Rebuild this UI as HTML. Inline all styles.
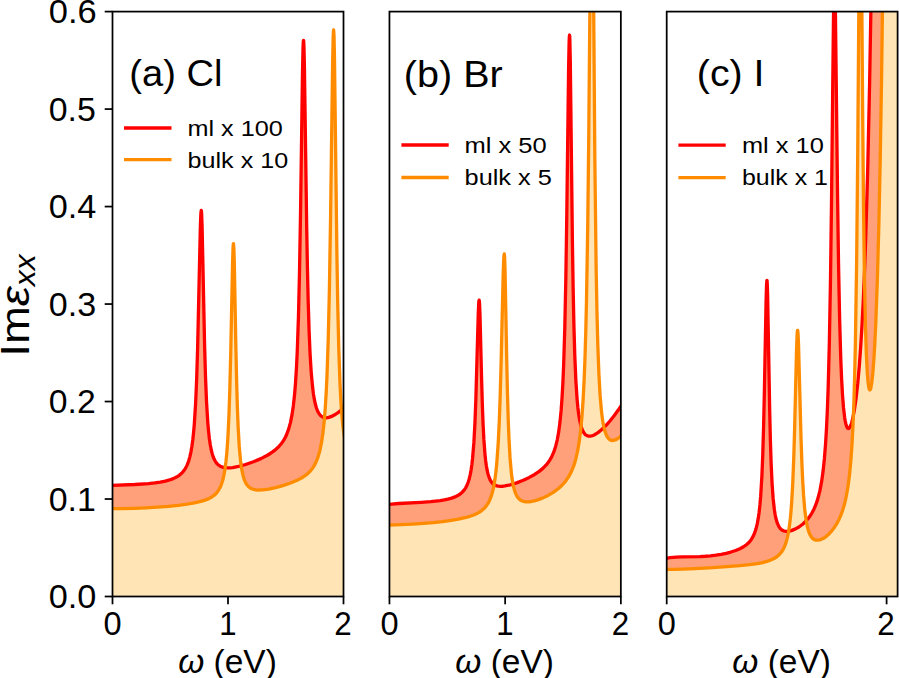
<!DOCTYPE html>
<html><head><meta charset="utf-8"><style>
html,body{margin:0;padding:0;background:#fff;}
body{width:899px;height:678px;overflow:hidden;}
svg{display:block;}
text{font-family:"Liberation Sans",sans-serif;fill:#000;}
</style></head><body>
<svg width="899" height="678" viewBox="0 0 899 678">
<defs>
<clipPath id="clipA"><rect x="112.50" y="11.60" width="231.00" height="584.90"/></clipPath>
<clipPath id="clipB"><rect x="389.45" y="11.60" width="231.40" height="584.90"/></clipPath>
<clipPath id="clipC"><rect x="666.70" y="11.60" width="230.90" height="584.90"/></clipPath>
</defs>
<g clip-path="url(#clipA)">
<path d="M110.45 485.42 L134.76 484.52 L148.47 483.60 L154.81 482.90 L160.34 482.07 L165.30 481.08 L169.56 479.94 L173.25 478.62 L176.49 477.08 L179.24 475.33 L181.66 473.27 L183.73 470.91 L185.58 468.12 L187.19 464.88 L188.57 461.23 L189.84 456.84 L190.91 452.05 L191.91 446.31 L192.77 440.04 L193.62 432.10 L194.33 423.79 L195.62 403.19 L196.64 379.57 L197.62 348.17 L200.33 227.68 L200.79 215.21 L201.02 211.74 L201.25 210.45 L201.48 211.52 L201.62 213.47 L202.06 224.92 L204.62 345.96 L205.51 376.74 L206.55 402.20 L207.82 422.87 L208.51 430.87 L209.31 438.19 L210.19 444.29 L211.16 449.49 L212.20 453.69 L213.35 457.20 L214.27 459.36 L215.19 461.10 L216.33 462.79 L217.50 464.13 L218.76 465.23 L220.18 466.15 L221.75 466.86 L223.49 467.38 L225.45 467.71 L227.61 467.84 L229.94 467.79 L232.59 467.53 L238.70 466.41 L245.61 464.53 L253.45 461.80 L260.94 458.61 L267.39 455.24 L270.27 453.47 L272.92 451.65 L275.23 449.85 L277.30 448.02 L279.26 446.04 L280.99 444.04 L282.60 441.87 L284.03 439.64 L285.37 437.21 L286.64 434.51 L288.71 428.91 L290.44 422.58 L291.94 415.18 L293.32 405.93 L294.47 395.52 L295.51 383.05 L296.43 368.40 L297.24 351.72 L298.45 316.88 L299.54 270.68 L300.58 209.70 L302.47 74.15 L303.00 49.05 L303.23 42.98 L303.46 40.34 L303.58 40.36 L303.69 41.30 L303.92 45.90 L304.41 66.32 L306.69 226.66 L307.38 265.58 L308.18 301.09 L309.11 331.06 L310.09 353.99 L311.20 372.09 L312.59 387.31 L313.42 393.82 L314.29 399.16 L315.33 404.04 L316.37 407.74 L317.58 410.96 L318.96 413.58 L320.49 415.51 L322.15 416.83 L324.09 417.61 L326.31 417.81 L328.81 417.41 L331.58 416.42 L334.69 414.80 L338.03 412.62 L341.60 409.89 L345.40 406.59 L345.40 596.50 L110.45 596.50 Z" fill="#ffa07a"/>
<path d="M110.45 508.65 L121.97 508.60 L133.95 508.33 L145.94 507.84 L157.58 507.16 L168.41 506.30 L178.32 505.29 L186.96 504.15 L194.33 502.89 L199.75 501.69 L204.36 500.36 L208.28 498.86 L211.50 497.17 L214.27 495.20 L216.57 492.95 L218.53 490.32 L220.26 487.14 L221.69 483.56 L222.97 479.28 L224.11 474.11 L225.10 468.17 L225.91 461.90 L226.72 453.83 L227.42 444.75 L228.10 433.70 L229.02 413.52 L229.84 388.80 L230.75 352.20 L232.59 261.90 L233.05 248.01 L233.28 244.51 L233.40 243.74 L233.51 243.65 L233.92 249.41 L234.32 263.68 L235.83 344.74 L236.63 381.47 L237.35 406.83 L238.12 426.63 L239.26 446.65 L240.54 460.77 L241.30 466.56 L242.19 471.74 L243.21 476.14 L244.36 479.77 L245.15 481.69 L246.07 483.47 L247.11 485.04 L248.18 486.29 L249.42 487.39 L250.72 488.25 L252.25 488.97 L253.91 489.49 L255.75 489.84 L257.83 490.02 L262.67 489.89 L268.66 489.06 L275.57 487.59 L283.64 485.38 L291.25 482.78 L297.58 480.07 L300.35 478.65 L302.77 477.24 L305.04 475.71 L307.03 474.16 L308.81 472.57 L310.49 470.81 L311.99 468.97 L313.44 466.88 L314.74 464.67 L315.90 462.36 L317.06 459.64 L318.07 456.83 L319.94 450.19 L321.55 442.27 L322.93 432.90 L324.15 421.72 L325.24 408.36 L326.18 393.00 L327.05 374.49 L328.23 339.51 L329.39 289.97 L330.52 220.80 L332.61 63.24 L333.13 38.55 L333.42 31.47 L333.65 29.83 L334.00 35.28 L334.46 56.65 L336.90 254.11 L337.80 307.43 L338.78 348.72 L339.99 383.18 L340.66 396.87 L341.38 408.59 L342.18 418.73 L343.10 427.87 L345.40 442.83 L345.40 596.50 L110.45 596.50 Z" fill="#ffe4b5"/>
<path d="M110.45 485.42 L134.76 484.52 L148.47 483.60 L154.81 482.90 L160.34 482.07 L165.30 481.08 L169.56 479.94 L173.25 478.62 L176.49 477.08 L179.24 475.33 L181.66 473.27 L183.73 470.91 L185.58 468.12 L187.19 464.88 L188.57 461.23 L189.84 456.84 L190.91 452.05 L191.91 446.31 L192.77 440.04 L193.62 432.10 L194.33 423.79 L195.62 403.19 L196.64 379.57 L197.62 348.17 L200.33 227.68 L200.79 215.21 L201.02 211.74 L201.25 210.45 L201.48 211.52 L201.62 213.47 L202.06 224.92 L204.62 345.96 L205.51 376.74 L206.55 402.20 L207.82 422.87 L208.51 430.87 L209.31 438.19 L210.19 444.29 L211.16 449.49 L212.20 453.69 L213.35 457.20 L214.27 459.36 L215.19 461.10 L216.33 462.79 L217.50 464.13 L218.76 465.23 L220.18 466.15 L221.75 466.86 L223.49 467.38 L225.45 467.71 L227.61 467.84 L229.94 467.79 L232.59 467.53 L238.70 466.41 L245.61 464.53 L253.45 461.80 L260.94 458.61 L267.39 455.24 L270.27 453.47 L272.92 451.65 L275.23 449.85 L277.30 448.02 L279.26 446.04 L280.99 444.04 L282.60 441.87 L284.03 439.64 L285.37 437.21 L286.64 434.51 L288.71 428.91 L290.44 422.58 L291.94 415.18 L293.32 405.93 L294.47 395.52 L295.51 383.05 L296.43 368.40 L297.24 351.72 L298.45 316.88 L299.54 270.68 L300.58 209.70 L302.47 74.15 L303.00 49.05 L303.23 42.98 L303.46 40.34 L303.58 40.36 L303.69 41.30 L303.92 45.90 L304.41 66.32 L306.69 226.66 L307.38 265.58 L308.18 301.09 L309.11 331.06 L310.09 353.99 L311.20 372.09 L312.59 387.31 L313.42 393.82 L314.29 399.16 L315.33 404.04 L316.37 407.74 L317.58 410.96 L318.96 413.58 L320.49 415.51 L322.15 416.83 L324.09 417.61 L326.31 417.81 L328.81 417.41 L331.58 416.42 L334.69 414.80 L338.03 412.62 L341.60 409.89 L345.40 406.59" fill="none" stroke="#ff0000" stroke-width="3.3" stroke-linejoin="round" stroke-linecap="butt"/>
<path d="M110.45 508.65 L121.97 508.60 L133.95 508.33 L145.94 507.84 L157.58 507.16 L168.41 506.30 L178.32 505.29 L186.96 504.15 L194.33 502.89 L199.75 501.69 L204.36 500.36 L208.28 498.86 L211.50 497.17 L214.27 495.20 L216.57 492.95 L218.53 490.32 L220.26 487.14 L221.69 483.56 L222.97 479.28 L224.11 474.11 L225.10 468.17 L225.91 461.90 L226.72 453.83 L227.42 444.75 L228.10 433.70 L229.02 413.52 L229.84 388.80 L230.75 352.20 L232.59 261.90 L233.05 248.01 L233.28 244.51 L233.40 243.74 L233.51 243.65 L233.92 249.41 L234.32 263.68 L235.83 344.74 L236.63 381.47 L237.35 406.83 L238.12 426.63 L239.26 446.65 L240.54 460.77 L241.30 466.56 L242.19 471.74 L243.21 476.14 L244.36 479.77 L245.15 481.69 L246.07 483.47 L247.11 485.04 L248.18 486.29 L249.42 487.39 L250.72 488.25 L252.25 488.97 L253.91 489.49 L255.75 489.84 L257.83 490.02 L262.67 489.89 L268.66 489.06 L275.57 487.59 L283.64 485.38 L291.25 482.78 L297.58 480.07 L300.35 478.65 L302.77 477.24 L305.04 475.71 L307.03 474.16 L308.81 472.57 L310.49 470.81 L311.99 468.97 L313.44 466.88 L314.74 464.67 L315.90 462.36 L317.06 459.64 L318.07 456.83 L319.94 450.19 L321.55 442.27 L322.93 432.90 L324.15 421.72 L325.24 408.36 L326.18 393.00 L327.05 374.49 L328.23 339.51 L329.39 289.97 L330.52 220.80 L332.61 63.24 L333.13 38.55 L333.42 31.47 L333.65 29.83 L334.00 35.28 L334.46 56.65 L336.90 254.11 L337.80 307.43 L338.78 348.72 L339.99 383.18 L340.66 396.87 L341.38 408.59 L342.18 418.73 L343.10 427.87 L345.40 442.83" fill="none" stroke="#ff8c00" stroke-width="3.3" stroke-linejoin="round" stroke-linecap="butt"/>
</g>
<rect x="112.50" y="11.60" width="231.00" height="584.90" fill="none" stroke="#000" stroke-width="1.75" stroke-linejoin="miter"/>
<line x1="112.50" y1="596.50" x2="112.50" y2="604.30" stroke="#000" stroke-width="1.75"/>
<line x1="228.00" y1="596.50" x2="228.00" y2="604.30" stroke="#000" stroke-width="1.75"/>
<line x1="343.50" y1="596.50" x2="343.50" y2="604.30" stroke="#000" stroke-width="1.75"/>
<g clip-path="url(#clipB)">
<path d="M387.45 504.51 L398.62 503.50 L421.21 502.37 L430.77 501.69 L440.22 500.60 L444.26 499.91 L447.94 499.12 L451.63 498.10 L454.92 496.91 L457.74 495.55 L460.16 494.01 L462.27 492.22 L464.08 490.20 L465.69 487.81 L467.00 485.25 L468.18 482.26 L469.26 478.72 L470.28 474.37 L471.10 469.86 L471.91 464.25 L472.60 458.18 L473.87 442.65 L474.87 424.37 L475.79 401.01 L478.29 312.81 L478.71 303.58 L478.94 300.90 L479.17 300.16 L479.40 301.59 L479.60 304.62 L479.99 314.89 L481.59 378.93 L482.40 406.34 L483.09 424.31 L483.90 439.91 L484.98 454.35 L485.62 460.44 L486.31 465.58 L487.08 469.98 L487.93 473.71 L488.92 476.97 L490.00 479.59 L490.89 481.19 L491.85 482.54 L492.99 483.74 L494.15 484.63 L495.48 485.34 L496.92 485.85 L498.53 486.17 L500.37 486.30 L502.45 486.24 L504.87 485.97 L510.28 484.81 L516.62 482.85 L523.30 480.23 L529.30 477.42 L534.60 474.46 L539.21 471.36 L543.12 468.13 L546.47 464.67 L549.23 461.01 L551.65 456.85 L553.73 452.17 L555.68 446.23 L557.30 439.57 L558.69 431.85 L559.98 422.05 L561.10 410.63 L562.02 398.09 L562.84 383.55 L563.64 365.29 L564.79 327.84 L565.83 278.51 L566.75 217.61 L568.59 68.86 L569.08 43.49 L569.28 37.71 L569.51 35.02 L569.73 36.72 L569.86 39.91 L570.32 62.80 L572.39 240.01 L573.11 286.45 L573.89 324.50 L574.80 355.75 L575.85 380.39 L577.14 399.85 L577.92 408.01 L578.73 414.56 L579.74 420.61 L580.81 425.31 L582.07 429.26 L583.50 432.24 L584.28 433.40 L585.18 434.41 L586.10 435.17 L587.01 435.68 L588.05 436.03 L589.10 436.18 L590.26 436.15 L591.52 435.92 L592.99 435.45 L594.55 434.74 L597.98 432.61 L601.78 429.54 L605.81 425.64 L609.96 421.02 L614.11 415.84 L618.26 410.09 L622.40 403.77 L622.40 596.50 L387.45 596.50 Z" fill="#ffa07a"/>
<path d="M387.45 525.14 L401.04 524.66 L412.68 524.10 L423.40 523.41 L433.31 522.57 L442.64 521.56 L451.05 520.41 L458.43 519.14 L464.88 517.72 L469.95 516.30 L474.33 514.71 L478.02 512.97 L481.13 511.02 L483.78 508.82 L486.13 506.20 L488.16 503.16 L489.89 499.69 L491.39 495.70 L492.70 491.10 L493.89 485.61 L494.94 479.37 L495.88 472.12 L496.73 463.78 L498.18 443.66 L499.22 422.71 L500.14 397.49 L501.18 360.04 L503.15 275.60 L503.74 258.98 L504.04 254.83 L504.29 253.86 L504.64 257.84 L505.10 272.83 L506.71 358.95 L507.47 393.55 L508.21 419.11 L508.90 437.16 L510.01 457.45 L511.32 472.58 L512.01 478.12 L512.84 483.30 L513.74 487.53 L514.78 491.20 L515.58 493.40 L516.43 495.23 L517.43 496.93 L518.46 498.29 L519.62 499.42 L520.88 500.33 L522.25 501.01 L523.74 501.49 L525.49 501.79 L527.34 501.88 L529.41 501.77 L531.72 501.45 L534.25 500.90 L536.90 500.16 L542.43 498.13 L548.08 495.45 L553.27 492.38 L557.87 489.01 L562.02 485.24 L565.48 481.31 L568.54 476.90 L571.13 472.12 L573.43 466.61 L574.58 463.21 L575.74 459.25 L577.69 450.67 L579.37 440.64 L580.81 428.92 L582.04 415.33 L583.11 399.67 L584.15 379.47 L584.98 357.94 L585.76 332.16 L586.46 302.69 L587.72 226.98 L588.76 135.71 L590.20 -27.39 L593.37 -27.39 L593.41 -25.99 L594.86 161.17 L596.13 267.00 L596.94 310.95 L597.82 345.21 L598.89 373.78 L600.09 395.18 L601.43 410.78 L602.12 416.62 L602.93 422.06 L603.84 426.84 L604.77 430.61 L605.84 433.85 L607.08 436.52 L608.39 438.42 L609.86 439.72 L611.46 440.39 L612.38 440.51 L613.30 440.46 L615.26 439.92 L617.45 438.75 L619.87 436.95 L622.40 434.60 L622.40 596.50 L387.45 596.50 Z" fill="#ffe4b5"/>
<path d="M387.45 504.51 L398.62 503.50 L421.21 502.37 L430.77 501.69 L440.22 500.60 L444.26 499.91 L447.94 499.12 L451.63 498.10 L454.92 496.91 L457.74 495.55 L460.16 494.01 L462.27 492.22 L464.08 490.20 L465.69 487.81 L467.00 485.25 L468.18 482.26 L469.26 478.72 L470.28 474.37 L471.10 469.86 L471.91 464.25 L472.60 458.18 L473.87 442.65 L474.87 424.37 L475.79 401.01 L478.29 312.81 L478.71 303.58 L478.94 300.90 L479.17 300.16 L479.40 301.59 L479.60 304.62 L479.99 314.89 L481.59 378.93 L482.40 406.34 L483.09 424.31 L483.90 439.91 L484.98 454.35 L485.62 460.44 L486.31 465.58 L487.08 469.98 L487.93 473.71 L488.92 476.97 L490.00 479.59 L490.89 481.19 L491.85 482.54 L492.99 483.74 L494.15 484.63 L495.48 485.34 L496.92 485.85 L498.53 486.17 L500.37 486.30 L502.45 486.24 L504.87 485.97 L510.28 484.81 L516.62 482.85 L523.30 480.23 L529.30 477.42 L534.60 474.46 L539.21 471.36 L543.12 468.13 L546.47 464.67 L549.23 461.01 L551.65 456.85 L553.73 452.17 L555.68 446.23 L557.30 439.57 L558.69 431.85 L559.98 422.05 L561.10 410.63 L562.02 398.09 L562.84 383.55 L563.64 365.29 L564.79 327.84 L565.83 278.51 L566.75 217.61 L568.59 68.86 L569.08 43.49 L569.28 37.71 L569.51 35.02 L569.73 36.72 L569.86 39.91 L570.32 62.80 L572.39 240.01 L573.11 286.45 L573.89 324.50 L574.80 355.75 L575.85 380.39 L577.14 399.85 L577.92 408.01 L578.73 414.56 L579.74 420.61 L580.81 425.31 L582.07 429.26 L583.50 432.24 L584.28 433.40 L585.18 434.41 L586.10 435.17 L587.01 435.68 L588.05 436.03 L589.10 436.18 L590.26 436.15 L591.52 435.92 L592.99 435.45 L594.55 434.74 L597.98 432.61 L601.78 429.54 L605.81 425.64 L609.96 421.02 L614.11 415.84 L618.26 410.09 L622.40 403.77" fill="none" stroke="#ff0000" stroke-width="3.3" stroke-linejoin="round" stroke-linecap="butt"/>
<path d="M387.45 525.14 L401.04 524.66 L412.68 524.10 L423.40 523.41 L433.31 522.57 L442.64 521.56 L451.05 520.41 L458.43 519.14 L464.88 517.72 L469.95 516.30 L474.33 514.71 L478.02 512.97 L481.13 511.02 L483.78 508.82 L486.13 506.20 L488.16 503.16 L489.89 499.69 L491.39 495.70 L492.70 491.10 L493.89 485.61 L494.94 479.37 L495.88 472.12 L496.73 463.78 L498.18 443.66 L499.22 422.71 L500.14 397.49 L501.18 360.04 L503.15 275.60 L503.74 258.98 L504.04 254.83 L504.29 253.86 L504.64 257.84 L505.10 272.83 L506.71 358.95 L507.47 393.55 L508.21 419.11 L508.90 437.16 L510.01 457.45 L511.32 472.58 L512.01 478.12 L512.84 483.30 L513.74 487.53 L514.78 491.20 L515.58 493.40 L516.43 495.23 L517.43 496.93 L518.46 498.29 L519.62 499.42 L520.88 500.33 L522.25 501.01 L523.74 501.49 L525.49 501.79 L527.34 501.88 L529.41 501.77 L531.72 501.45 L534.25 500.90 L536.90 500.16 L542.43 498.13 L548.08 495.45 L553.27 492.38 L557.87 489.01 L562.02 485.24 L565.48 481.31 L568.54 476.90 L571.13 472.12 L573.43 466.61 L574.58 463.21 L575.74 459.25 L577.69 450.67 L579.37 440.64 L580.81 428.92 L582.04 415.33 L583.11 399.67 L584.15 379.47 L584.98 357.94 L585.76 332.16 L586.46 302.69 L587.72 226.98 L588.76 135.71 L590.20 -27.39 L593.37 -27.39 L593.41 -25.99 L594.86 161.17 L596.13 267.00 L596.94 310.95 L597.82 345.21 L598.89 373.78 L600.09 395.18 L601.43 410.78 L602.12 416.62 L602.93 422.06 L603.84 426.84 L604.77 430.61 L605.84 433.85 L607.08 436.52 L608.39 438.42 L609.86 439.72 L611.46 440.39 L612.38 440.51 L613.30 440.46 L615.26 439.92 L617.45 438.75 L619.87 436.95 L622.40 434.60" fill="none" stroke="#ff8c00" stroke-width="3.3" stroke-linejoin="round" stroke-linecap="butt"/>
</g>
<rect x="389.45" y="11.60" width="231.40" height="584.90" fill="none" stroke="#000" stroke-width="1.75" stroke-linejoin="miter"/>
<line x1="389.45" y1="596.50" x2="389.45" y2="604.30" stroke="#000" stroke-width="1.75"/>
<line x1="505.15" y1="596.50" x2="505.15" y2="604.30" stroke="#000" stroke-width="1.75"/>
<line x1="620.85" y1="596.50" x2="620.85" y2="604.30" stroke="#000" stroke-width="1.75"/>
<g clip-path="url(#clipC)">
<path d="M664.81 558.63 L670.11 557.73 L676.33 557.16 L682.33 556.91 L699.73 556.53 L705.26 556.24 L710.44 555.81 L715.97 555.15 L721.16 554.31 L726.11 553.28 L730.84 552.05 L735.68 550.47 L739.94 548.69 L743.51 546.76 L746.63 544.56 L749.16 542.18 L751.35 539.41 L753.25 536.16 L754.83 532.46 L756.07 528.59 L757.23 523.88 L758.24 518.42 L759.09 512.46 L759.95 504.73 L760.68 496.16 L761.90 475.89 L762.76 454.83 L763.56 427.76 L764.37 391.87 L766.04 302.53 L766.53 285.58 L766.91 280.41 L767.02 280.47 L767.25 283.31 L767.62 294.93 L769.70 411.10 L770.43 441.47 L771.16 463.82 L772.09 483.78 L773.11 498.22 L774.40 509.95 L775.09 514.31 L775.89 518.25 L777.16 522.70 L778.66 526.14 L779.47 527.45 L780.39 528.61 L781.39 529.55 L782.46 530.27 L783.61 530.80 L784.93 531.15 L786.38 531.31 L787.88 531.27 L789.49 531.03 L791.26 530.60 L795.02 529.15 L798.94 526.96 L802.63 524.23 L806.03 521.01 L809.07 517.38 L811.73 513.35 L814.04 508.96 L816.11 503.99 L817.95 498.38 L819.91 490.62 L821.64 481.41 L823.09 471.08 L824.39 458.72 L825.55 444.09 L826.48 428.65 L827.40 408.86 L828.21 386.42 L829.36 342.43 L830.46 281.48 L831.48 203.91 L833.40 23.53 L833.93 -10.00 L834.20 -18.97 L834.43 -21.81 L834.66 -20.22 L834.94 -12.66 L835.47 15.70 L837.54 194.29 L838.56 265.38 L839.62 318.90 L840.77 358.63 L841.59 378.61 L842.50 394.78 L843.54 407.91 L844.69 417.67 L845.26 421.11 L845.96 424.21 L846.65 426.40 L847.45 427.90 L847.81 428.27 L848.24 428.48 L848.68 428.46 L849.07 428.26 L849.87 427.29 L850.70 425.60 L851.60 422.99 L852.52 419.52 L854.32 410.44 L856.05 398.49 L857.71 383.73 L859.23 366.82 L860.71 346.68 L862.09 323.77 L863.36 298.63 L864.51 271.66 L865.66 240.04 L867.73 168.60 L869.58 84.89 L871.54 -27.39 L899.54 -27.39 L899.54 596.50 L664.81 596.50 Z" fill="#ffa07a"/>
<path d="M664.81 569.35 L673.57 569.41 L683.36 569.19 L694.77 568.70 L709.17 567.87 L726.92 566.67 L739.83 565.63 L749.51 564.63 L757.23 563.53 L762.41 562.53 L766.91 561.37 L770.75 560.03 L774.04 558.49 L776.82 556.74 L779.24 554.68 L781.34 552.25 L783.15 549.43 L784.77 546.05 L786.15 542.17 L787.36 537.67 L788.45 532.27 L789.38 526.36 L790.30 518.69 L791.08 510.29 L791.79 500.50 L792.83 481.40 L793.76 457.87 L794.68 426.57 L796.52 350.85 L797.09 335.18 L797.33 331.71 L797.56 330.30 L797.67 330.35 L797.79 330.87 L798.02 333.30 L798.52 344.39 L801.01 437.83 L801.82 461.24 L802.63 479.60 L803.55 495.18 L804.70 508.96 L805.97 519.21 L806.68 523.44 L807.47 527.14 L808.51 530.91 L809.69 534.05 L811.04 536.55 L812.55 538.38 L814.27 539.60 L815.19 539.98 L816.23 540.22 L818.42 540.21 L820.72 539.61 L823.49 538.27 L826.37 536.27 L829.25 533.69 L832.01 530.63 L834.55 527.24 L836.97 523.36 L839.12 519.21 L841.03 514.78 L842.38 511.10 L843.66 507.05 L844.86 502.63 L845.93 497.97 L847.80 487.77 L849.40 475.78 L850.80 461.39 L851.95 445.17 L852.99 425.35 L853.91 401.63 L854.71 373.83 L855.40 342.65 L856.67 259.20 L857.71 155.11 L859.09 -26.90 L859.20 -27.39 L861.59 -27.39 L862.67 114.23 L863.51 204.50 L864.39 272.87 L865.43 324.97 L866.35 354.11 L867.33 373.36 L867.93 380.86 L868.53 385.86 L869.12 388.79 L869.48 389.67 L869.84 389.97 L870.08 389.86 L870.32 389.51 L870.80 388.14 L871.77 382.73 L872.80 373.23 L873.79 360.67 L874.76 344.47 L875.69 325.49 L877.37 279.90 L878.91 223.00 L880.29 155.98 L881.56 77.67 L882.94 -27.39 L899.54 -27.39 L899.54 596.50 L664.81 596.50 Z" fill="#ffe4b5"/>
<path d="M664.81 558.63 L670.11 557.73 L676.33 557.16 L682.33 556.91 L699.73 556.53 L705.26 556.24 L710.44 555.81 L715.97 555.15 L721.16 554.31 L726.11 553.28 L730.84 552.05 L735.68 550.47 L739.94 548.69 L743.51 546.76 L746.63 544.56 L749.16 542.18 L751.35 539.41 L753.25 536.16 L754.83 532.46 L756.07 528.59 L757.23 523.88 L758.24 518.42 L759.09 512.46 L759.95 504.73 L760.68 496.16 L761.90 475.89 L762.76 454.83 L763.56 427.76 L764.37 391.87 L766.04 302.53 L766.53 285.58 L766.91 280.41 L767.02 280.47 L767.25 283.31 L767.62 294.93 L769.70 411.10 L770.43 441.47 L771.16 463.82 L772.09 483.78 L773.11 498.22 L774.40 509.95 L775.09 514.31 L775.89 518.25 L777.16 522.70 L778.66 526.14 L779.47 527.45 L780.39 528.61 L781.39 529.55 L782.46 530.27 L783.61 530.80 L784.93 531.15 L786.38 531.31 L787.88 531.27 L789.49 531.03 L791.26 530.60 L795.02 529.15 L798.94 526.96 L802.63 524.23 L806.03 521.01 L809.07 517.38 L811.73 513.35 L814.04 508.96 L816.11 503.99 L817.95 498.38 L819.91 490.62 L821.64 481.41 L823.09 471.08 L824.39 458.72 L825.55 444.09 L826.48 428.65 L827.40 408.86 L828.21 386.42 L829.36 342.43 L830.46 281.48 L831.48 203.91 L833.40 23.53 L833.93 -10.00 L834.20 -18.97 L834.43 -21.81 L834.66 -20.22 L834.94 -12.66 L835.47 15.70 L837.54 194.29 L838.56 265.38 L839.62 318.90 L840.77 358.63 L841.59 378.61 L842.50 394.78 L843.54 407.91 L844.69 417.67 L845.26 421.11 L845.96 424.21 L846.65 426.40 L847.45 427.90 L847.81 428.27 L848.24 428.48 L848.68 428.46 L849.07 428.26 L849.87 427.29 L850.70 425.60 L851.60 422.99 L852.52 419.52 L854.32 410.44 L856.05 398.49 L857.71 383.73 L859.23 366.82 L860.71 346.68 L862.09 323.77 L863.36 298.63 L864.51 271.66 L865.66 240.04 L867.73 168.60 L869.58 84.89 L871.54 -27.39 L899.54 -27.39" fill="none" stroke="#ff0000" stroke-width="3.3" stroke-linejoin="round" stroke-linecap="butt"/>
<path d="M664.81 569.35 L673.57 569.41 L683.36 569.19 L694.77 568.70 L709.17 567.87 L726.92 566.67 L739.83 565.63 L749.51 564.63 L757.23 563.53 L762.41 562.53 L766.91 561.37 L770.75 560.03 L774.04 558.49 L776.82 556.74 L779.24 554.68 L781.34 552.25 L783.15 549.43 L784.77 546.05 L786.15 542.17 L787.36 537.67 L788.45 532.27 L789.38 526.36 L790.30 518.69 L791.08 510.29 L791.79 500.50 L792.83 481.40 L793.76 457.87 L794.68 426.57 L796.52 350.85 L797.09 335.18 L797.33 331.71 L797.56 330.30 L797.67 330.35 L797.79 330.87 L798.02 333.30 L798.52 344.39 L801.01 437.83 L801.82 461.24 L802.63 479.60 L803.55 495.18 L804.70 508.96 L805.97 519.21 L806.68 523.44 L807.47 527.14 L808.51 530.91 L809.69 534.05 L811.04 536.55 L812.55 538.38 L814.27 539.60 L815.19 539.98 L816.23 540.22 L818.42 540.21 L820.72 539.61 L823.49 538.27 L826.37 536.27 L829.25 533.69 L832.01 530.63 L834.55 527.24 L836.97 523.36 L839.12 519.21 L841.03 514.78 L842.38 511.10 L843.66 507.05 L844.86 502.63 L845.93 497.97 L847.80 487.77 L849.40 475.78 L850.80 461.39 L851.95 445.17 L852.99 425.35 L853.91 401.63 L854.71 373.83 L855.40 342.65 L856.67 259.20 L857.71 155.11 L859.09 -26.90 L859.20 -27.39 L861.59 -27.39 L862.67 114.23 L863.51 204.50 L864.39 272.87 L865.43 324.97 L866.35 354.11 L867.33 373.36 L867.93 380.86 L868.53 385.86 L869.12 388.79 L869.48 389.67 L869.84 389.97 L870.08 389.86 L870.32 389.51 L870.80 388.14 L871.77 382.73 L872.80 373.23 L873.79 360.67 L874.76 344.47 L875.69 325.49 L877.37 279.90 L878.91 223.00 L880.29 155.98 L881.56 77.67 L882.94 -27.39 L899.54 -27.39" fill="none" stroke="#ff8c00" stroke-width="3.3" stroke-linejoin="round" stroke-linecap="butt"/>
</g>
<rect x="666.70" y="11.60" width="230.90" height="584.90" fill="none" stroke="#000" stroke-width="1.75" stroke-linejoin="miter"/>
<line x1="666.70" y1="596.50" x2="666.70" y2="604.30" stroke="#000" stroke-width="1.75"/>
<line x1="886.60" y1="596.50" x2="886.60" y2="604.30" stroke="#000" stroke-width="1.75"/>
<line x1="104.70" y1="596.50" x2="112.50" y2="596.50" stroke="#000" stroke-width="1.75"/>
<line x1="104.70" y1="499.02" x2="112.50" y2="499.02" stroke="#000" stroke-width="1.75"/>
<line x1="104.70" y1="401.53" x2="112.50" y2="401.53" stroke="#000" stroke-width="1.75"/>
<line x1="104.70" y1="304.05" x2="112.50" y2="304.05" stroke="#000" stroke-width="1.75"/>
<line x1="104.70" y1="206.57" x2="112.50" y2="206.57" stroke="#000" stroke-width="1.75"/>
<line x1="104.70" y1="109.08" x2="112.50" y2="109.08" stroke="#000" stroke-width="1.75"/>
<line x1="104.70" y1="11.60" x2="112.50" y2="11.60" stroke="#000" stroke-width="1.75"/>
<line x1="124.0" y1="128.0" x2="171.5" y2="128.0" stroke="#ff0000" stroke-width="3.3"/>
<line x1="124.0" y1="159.7" x2="171.5" y2="159.7" stroke="#ff8c00" stroke-width="3.3"/>
<line x1="401.4" y1="145.0" x2="448.7" y2="145.0" stroke="#ff0000" stroke-width="3.3"/>
<line x1="401.4" y1="177.5" x2="448.7" y2="177.5" stroke="#ff8c00" stroke-width="3.3"/>
<line x1="678.4" y1="145.2" x2="725.7" y2="145.2" stroke="#ff0000" stroke-width="3.3"/>
<line x1="678.4" y1="177.7" x2="725.7" y2="177.7" stroke="#ff8c00" stroke-width="3.3"/>
<text transform="matrix(1.03867 0 0 0.99645 48.727 608.173)" font-size="33">0.0</text>
<text transform="matrix(1.02758 0 0 0.99645 48.742 510.693)" font-size="33">0.1</text>
<text transform="matrix(1.02295 0 0 0.99645 48.748 413.213)" font-size="33">0.2</text>
<text transform="matrix(1.03287 0 0 0.99645 48.735 315.733)" font-size="33">0.3</text>
<text transform="matrix(1.03786 0 0 0.99645 48.728 218.253)" font-size="33">0.4</text>
<text transform="matrix(1.02613 0 0 0.99645 48.743 120.773)" font-size="33">0.5</text>
<text transform="matrix(1.04490 0 0 0.99645 48.719 23.293)" font-size="33">0.6</text>
<text transform="matrix(0.98707 0 0 0.99645 103.447 635.303)" font-size="33">0</text>
<text transform="matrix(0.94187 0 0 0.98801 219.210 635.200)" font-size="33">1</text>
<text transform="matrix(0.95073 0 0 0.99126 334.358 635.200)" font-size="33">2</text>
<text transform="matrix(0.98707 0 0 0.99645 380.397 635.303)" font-size="33">0</text>
<text transform="matrix(0.94187 0 0 0.98801 496.360 635.200)" font-size="33">1</text>
<text transform="matrix(0.95073 0 0 0.99126 611.708 635.200)" font-size="33">2</text>
<text transform="matrix(0.98707 0 0 0.99645 657.647 635.303)" font-size="33">0</text>
<text transform="matrix(0.95073 0 0 0.99126 877.308 635.200)" font-size="33">2</text>
<text transform="matrix(1.01426 0 0 0.99260 178.199 673.104)" font-size="33"><tspan font-style="italic">ω</tspan> (eV)</text>
<text transform="matrix(1.01426 0 0 0.99260 455.349 673.104)" font-size="33"><tspan font-style="italic">ω</tspan> (eV)</text>
<text transform="matrix(1.01426 0 0 0.99260 732.269 673.104)" font-size="33"><tspan font-style="italic">ω</tspan> (eV)</text>
<text transform="matrix(1.02960 0 0 0.98941 129.326 86.424)" font-size="37">(a) Cl</text>
<text transform="matrix(1.06924 0 0 0.99680 403.835 86.624)" font-size="37">(b) Br</text>
<text transform="matrix(1.06331 0 0 0.99941 696.848 86.300)" font-size="37">(c) I</text>
<text transform="matrix(1.09634 0 0 0.99833 187.514 135.718)" font-size="23">ml x 100</text>
<text transform="matrix(1.09282 0 0 0.99833 187.559 167.618)" font-size="23">bulk x 10</text>
<text transform="matrix(1.11017 0 0 0.99833 464.493 152.718)" font-size="23">ml x 50</text>
<text transform="matrix(1.10174 0 0 0.99833 464.545 184.618)" font-size="23">bulk x 5</text>
<text transform="matrix(1.10460 0 0 0.99833 741.901 152.718)" font-size="23">ml x 10</text>
<text transform="matrix(1.08569 0 0 0.99833 741.970 184.618)" font-size="23">bulk x 1</text>
<text transform="translate(28.700 356.709) rotate(-90) scale(1.10876 0.99682)" font-size="41">Im<tspan font-style="italic">ε</tspan><tspan font-style="italic" font-size="70%" dy="0.22em">xx</tspan></text>
</svg>
</body></html>
